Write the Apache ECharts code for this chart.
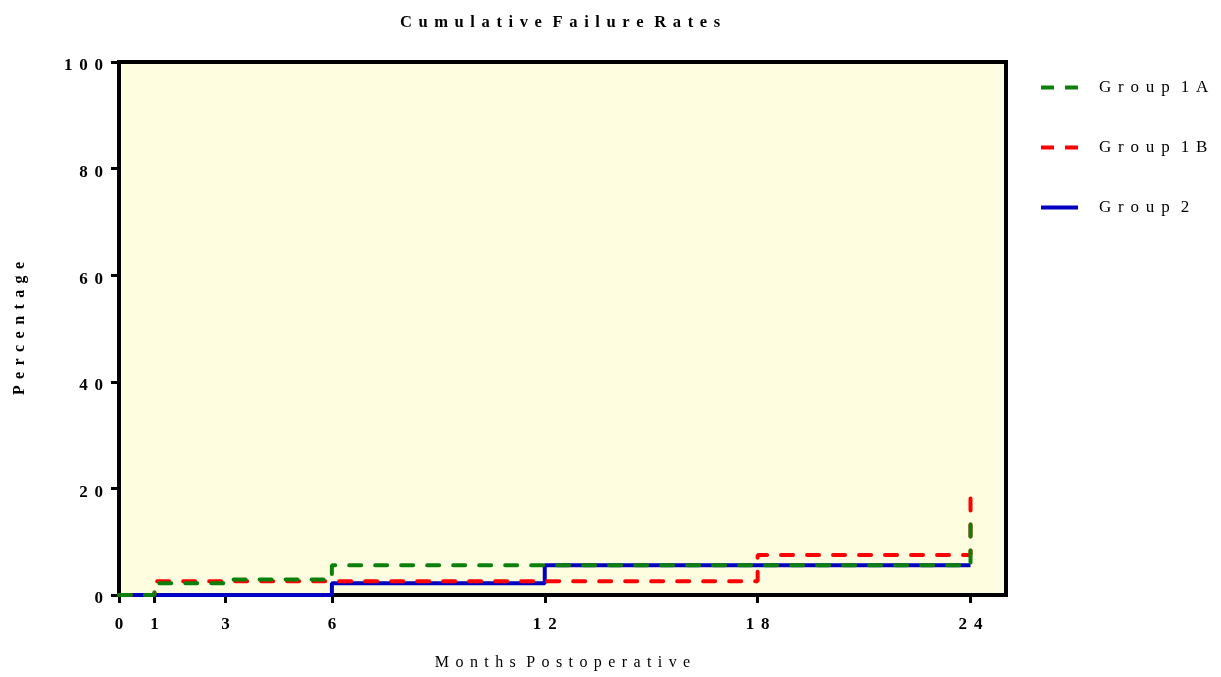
<!DOCTYPE html>
<html>
<head>
<meta charset="utf-8">
<script src="https://cdn.jsdelivr.net/npm/echarts@6/dist/echarts.min.js"></script>
<style>
  html, body { margin: 0; padding: 0; background: #ffffff; }
  #chart { width: 1221px; height: 677px; }
</style>
</head>
<body>
<div id="chart"></div>
<script>
// Months at which each group's cumulative failure rate changes, and the rate (%) from that month on
const monthsGroup1A = [0, 1, 3, 6, 24];
const ratesGroup1A  = [0, 2.2, 2.9, 5.6, 14.8];

const monthsGroup1B = [0, 1, 18, 24];
const ratesGroup1B  = [0, 2.6, 7.5, 18.8];

const monthsGroup2  = [0, 6, 12, 24];
const ratesGroup2   = [0, 2.2, 5.6, 5.6];

// Follow-up months marked on the time axis
const monthTicks = [0, 1, 3, 6, 12, 18, 24];

const SERIF = "'Liberation Serif', 'Times New Roman', serif";
const GAP = '\u2009\u2009';

// Legend keys: two dashes for the dashed groups, one bar for the solid one
const DASHED_KEY = 'path://M0,0h13v4h-13zM24,0h13v4h-13z';
const SOLID_KEY = 'path://M0,0h37v4h-37z';

// Spread letters apart the way the plot's typesetting does
function spaced(text) {
  return String(text).split(' ').map(w => Array.from(w).join(GAP)).join(GAP + ' ');
}

function pairs(xs, ys) {
  return xs.map((x, i) => [x, ys[i]]);
}

const chart = echarts.init(document.getElementById('chart'), null, { renderer: 'canvas' });

chart.setOption({
  backgroundColor: '#ffffff',
  animation: false,
  title: {
    text: spaced('Cumulative Failure Rates'),
    left: 555,
    textAlign: 'center',
    top: 9,
    textStyle: { fontFamily: SERIF, fontWeight: 'bold', fontSize: 16.5, color: '#000' }
  },
  legend: {
    orient: 'vertical',
    left: 1036,
    top: 74,
    itemWidth: 37,
    itemHeight: 4,
    itemGap: 43,
    textStyle: { fontFamily: SERIF, fontSize: 17, color: '#000', lineHeight: 17, padding: [0, 0, 0, 16] },
    formatter: name => spaced(name),
    data: [
      { name: 'Group 1A', icon: DASHED_KEY },
      { name: 'Group 1B', icon: DASHED_KEY },
      { name: 'Group 2', icon: SOLID_KEY }
    ]
  },
  grid: {
    left: 119,
    right: 215,
    top: 62,
    bottom: 82,
    show: true,
    backgroundColor: '#fffddf',
    borderColor: '#000',
    borderWidth: 4
  },
  xAxis: {
    type: 'value',
    min: 0,
    max: 25,
    name: spaced('Months Postoperative'),
    nameLocation: 'middle',
    nameGap: 60,
    nameTextStyle: { fontFamily: SERIF, fontSize: 16, color: '#000' },
    axisLine: { lineStyle: { color: '#000', width: 4 } },
    axisTick: { customValues: monthTicks, length: 8, lineStyle: { color: '#000', width: 3 } },
    axisLabel: {
      customValues: monthTicks,
      margin: 21,
      formatter: v => spaced(v),
      fontFamily: SERIF, fontWeight: 'bold', fontSize: 17, color: '#000'
    },
    splitLine: { show: false }
  },
  yAxis: {
    type: 'value',
    min: 0,
    max: 100,
    interval: 20,
    name: spaced('Percentage'),
    nameLocation: 'middle',
    nameGap: 91,
    nameTextStyle: { fontFamily: SERIF, fontWeight: 'bold', fontSize: 16, color: '#000' },
    axisLine: { show: true, lineStyle: { color: '#000', width: 4 } },
    axisTick: { show: true, length: 8, lineStyle: { color: '#000', width: 3 } },
    axisLabel: {
      margin: 16,
      formatter: v => '{v|' + spaced(v) + '}',
      rich: {
        v: { fontFamily: SERIF, fontWeight: 'bold', fontSize: 17, color: '#000', padding: [8, 0, 0, 0] }
      }
    },
    splitLine: { show: false }
  },
  series: [
    {
      name: 'Group 1A',
      type: 'line',
      step: 'end',
      symbol: 'none',
      z: 4,
      data: pairs(monthsGroup1A, ratesGroup1A),
      color: '#0b800b',
      lineStyle: { color: '#0b800b', width: 4, type: [12, 14], cap: 'round' }
    },
    {
      name: 'Group 1B',
      type: 'line',
      step: 'end',
      symbol: 'none',
      z: 3,
      data: pairs(monthsGroup1B, ratesGroup1B),
      color: '#ff0000',
      lineStyle: { color: '#ff0000', width: 4, type: [12, 14], cap: 'round' }
    },
    {
      name: 'Group 2',
      type: 'line',
      step: 'end',
      symbol: 'none',
      z: 2,
      data: pairs(monthsGroup2, ratesGroup2),
      color: '#0000c0',
      lineStyle: { color: '#0000c0', width: 4 }
    }
  ]
});
</script>
</body>
</html>
